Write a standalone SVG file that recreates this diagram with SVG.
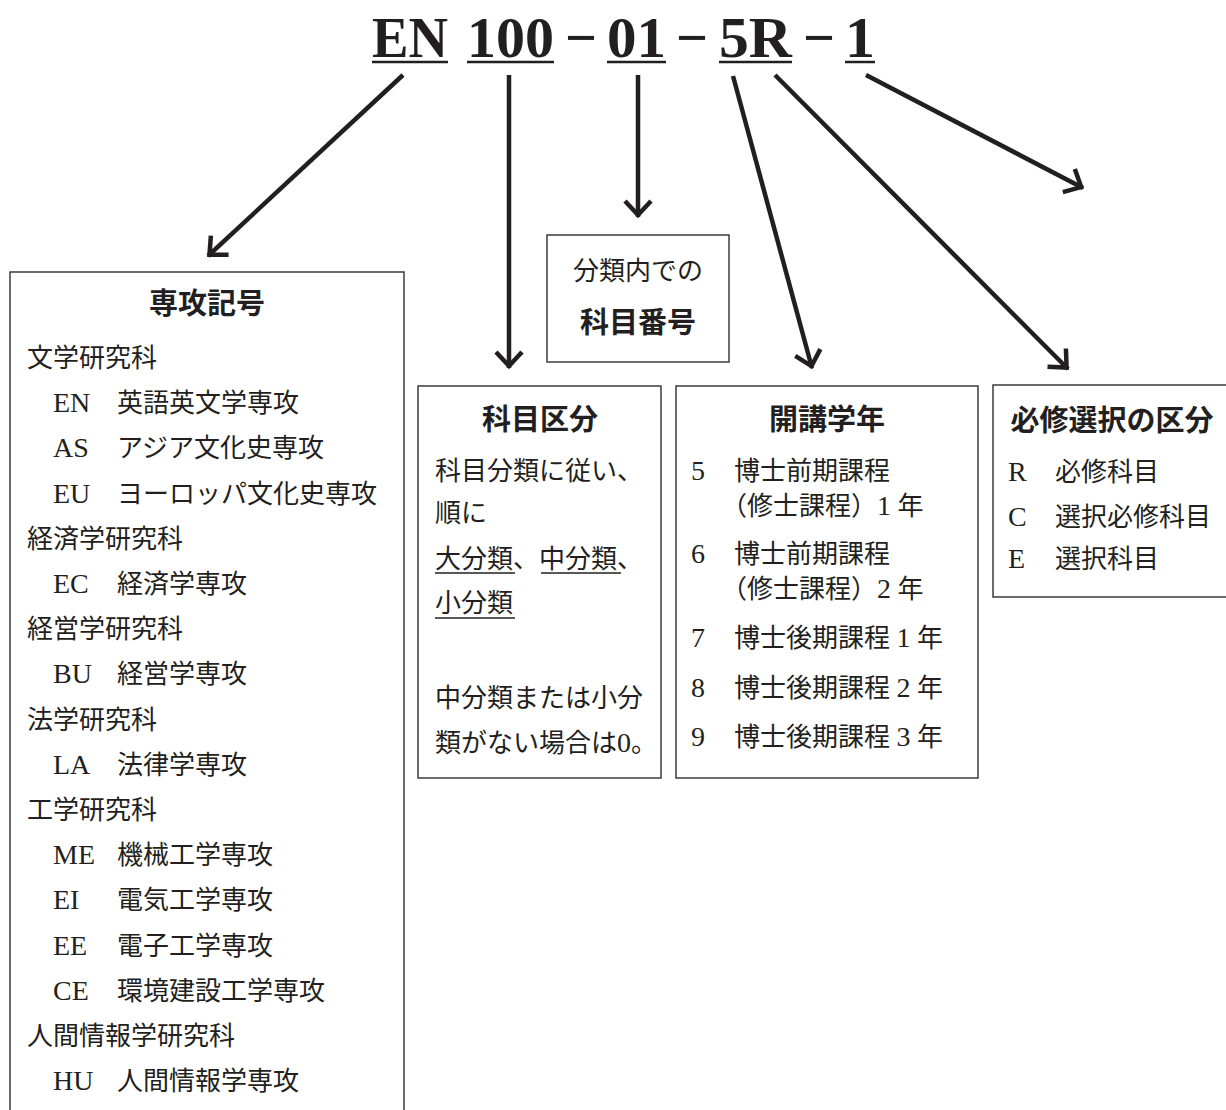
<svg xmlns="http://www.w3.org/2000/svg" width="1226" height="1110" viewBox="0 0 1226 1110">
<style>
.bg{fill:#ffffff}
.box{fill:none;stroke:#3c3c3c;stroke-width:1.5}
.t{font-family:'Liberation Serif','Noto Sans CJK JP',serif;font-size:26px;fill:#231f20}
.l{font-size:28px}
.h{font-family:'Noto Sans CJK JP',sans-serif;font-size:29px;font-weight:700;fill:#231f20}
.title{font-family:'Liberation Serif',serif;font-size:58px;font-weight:700;fill:#231f20}
.ul{stroke:#231f20;stroke-width:1.5}
.tul{stroke:#231f20;stroke-width:2.5}
.arr{fill:none;stroke:#231f20;stroke-width:4.5;marker-end:url(#ah)}
.mid{text-anchor:middle}
</style>
<defs>
<marker id="ah" markerUnits="userSpaceOnUse" viewBox="-20 -20 40 40" markerWidth="40" markerHeight="40" refX="2" refY="0" orient="auto" overflow="visible">
<path d="M-14,-13 L0,0 L-14,13" fill="none" stroke="#231f20" stroke-width="4.5" stroke-linejoin="miter"/>
</marker>
</defs>
<rect class="bg" x="0" y="0" width="1226" height="1110"/>

<g id="title">
<text class="title" y="57"><tspan x="372" textLength="76" lengthAdjust="spacingAndGlyphs">EN</tspan><tspan x="467" textLength="87" lengthAdjust="spacingAndGlyphs">100</tspan><tspan x="565" textLength="32" lengthAdjust="spacingAndGlyphs">−</tspan><tspan x="607" textLength="59" lengthAdjust="spacingAndGlyphs">01</tspan><tspan x="676" textLength="32" lengthAdjust="spacingAndGlyphs">−</tspan><tspan x="719" textLength="73" lengthAdjust="spacingAndGlyphs">5R</tspan><tspan x="803" textLength="32" lengthAdjust="spacingAndGlyphs">−</tspan><tspan x="845" textLength="30" lengthAdjust="spacingAndGlyphs">1</tspan></text>
<line class="tul" x1="372" y1="62" x2="448" y2="62"/>
<line class="tul" x1="467" y1="62" x2="554" y2="62"/>
<line class="tul" x1="607" y1="62" x2="666" y2="62"/>
<line class="tul" x1="719" y1="62" x2="792" y2="62"/>
<line class="tul" x1="845" y1="62" x2="875" y2="62"/>
</g>

<g id="connectors">
<line class="arr" x1="403" y1="75" x2="208" y2="256"/>
<line class="arr" x1="509" y1="75" x2="509" y2="368"/>
<line class="arr" x1="638" y1="75" x2="638" y2="217"/>
<line class="arr" x1="733" y1="76" x2="812" y2="368"/>
<line class="arr" x1="775" y1="75" x2="1068" y2="369"/>
<line class="arr" x1="866" y1="75" x2="1083" y2="188"/>
</g>

<g id="major-code">
<path class="box" d="M10,1112 V272 H404 V1112"/>
<text class="h mid" x="207" y="314">専攻記号</text>
<text class="t" x="27" y="367">文学研究科</text>
<text class="t l" x="53" y="412.2">EN</text><text class="t" x="117" y="412.2">英語英文学専攻</text>
<text class="t l" x="53" y="457.4">AS</text><text class="t" x="117" y="457.4">アジア文化史専攻</text>
<text class="t l" x="53" y="502.6">EU</text><text class="t" x="117" y="502.6">ヨーロッパ文化史専攻</text>
<text class="t" x="27" y="547.8">経済学研究科</text>
<text class="t l" x="53" y="593">EC</text><text class="t" x="117" y="593">経済学専攻</text>
<text class="t" x="27" y="638.2">経営学研究科</text>
<text class="t l" x="53" y="683.4">BU</text><text class="t" x="117" y="683.4">経営学専攻</text>
<text class="t" x="27" y="728.6">法学研究科</text>
<text class="t l" x="53" y="773.8">LA</text><text class="t" x="117" y="773.8">法律学専攻</text>
<text class="t" x="27" y="819">工学研究科</text>
<text class="t l" x="53" y="864.2">ME</text><text class="t" x="117" y="864.2">機械工学専攻</text>
<text class="t l" x="53" y="909.4">EI</text><text class="t" x="117" y="909.4">電気工学専攻</text>
<text class="t l" x="53" y="954.6">EE</text><text class="t" x="117" y="954.6">電子工学専攻</text>
<text class="t l" x="53" y="999.8">CE</text><text class="t" x="117" y="999.8">環境建設工学専攻</text>
<text class="t" x="27" y="1045">人間情報学研究科</text>
<text class="t l" x="53" y="1090.2">HU</text><text class="t" x="117" y="1090.2">人間情報学専攻</text>
</g>

<g id="course-number">
<rect class="box" x="547" y="235" width="182" height="127"/>
<text class="t mid" x="638" y="280">分類内での</text>
<text class="h mid" x="638" y="333">科目番号</text>
</g>

<g id="subject-category">
<rect class="box" x="418" y="386" width="243" height="392"/>
<text class="h mid" x="540" y="430">科目区分</text>
<text class="t" x="435" y="480">科目分類に従い、</text>
<text class="t" x="435" y="522">順に</text>
<text class="t" x="435" y="568">大分類、中分類、</text>
<line class="ul" x1="435" y1="573" x2="515" y2="573"/>
<line class="ul" x1="541" y1="573" x2="621" y2="573"/>
<text class="t" x="435" y="612">小分類</text>
<line class="ul" x1="435" y1="618" x2="515" y2="618"/>
<text class="t" x="435" y="707">中分類または小分</text>
<text class="t" x="435" y="752">類がない場合は<tspan class="l">0</tspan>。</text>
</g>

<g id="year">
<rect class="box" x="676" y="386" width="302" height="392"/>
<text class="h mid" x="827" y="430">開講学年</text>
<text class="t l" x="691" y="480">5</text><text class="t" x="734" y="480">博士前期課程</text>
<text class="t" x="721" y="515">（修士課程）<tspan class="l">1</tspan> 年</text>
<text class="t l" x="691" y="563">6</text><text class="t" x="734" y="563">博士前期課程</text>
<text class="t" x="721" y="598">（修士課程）<tspan class="l">2</tspan> 年</text>
<text class="t l" x="691" y="647">7</text><text class="t" x="734" y="647">博士後期課程 <tspan class="l">1</tspan> 年</text>
<text class="t l" x="691" y="697">8</text><text class="t" x="734" y="697">博士後期課程 <tspan class="l">2</tspan> 年</text>
<text class="t l" x="691" y="746">9</text><text class="t" x="734" y="746">博士後期課程 <tspan class="l">3</tspan> 年</text>
</g>

<g id="required-elective">
<path class="box" d="M1228,385 H993 V597 H1228"/>
<text class="h mid" x="1112" y="431">必修選択の区分</text>
<text class="t l" x="1008" y="481">R</text><text class="t" x="1055" y="481">必修科目</text>
<text class="t l" x="1008" y="526">C</text><text class="t" x="1055" y="526">選択必修科目</text>
<text class="t l" x="1008" y="568">E</text><text class="t" x="1055" y="568">選択科目</text>
</g>
</svg>
